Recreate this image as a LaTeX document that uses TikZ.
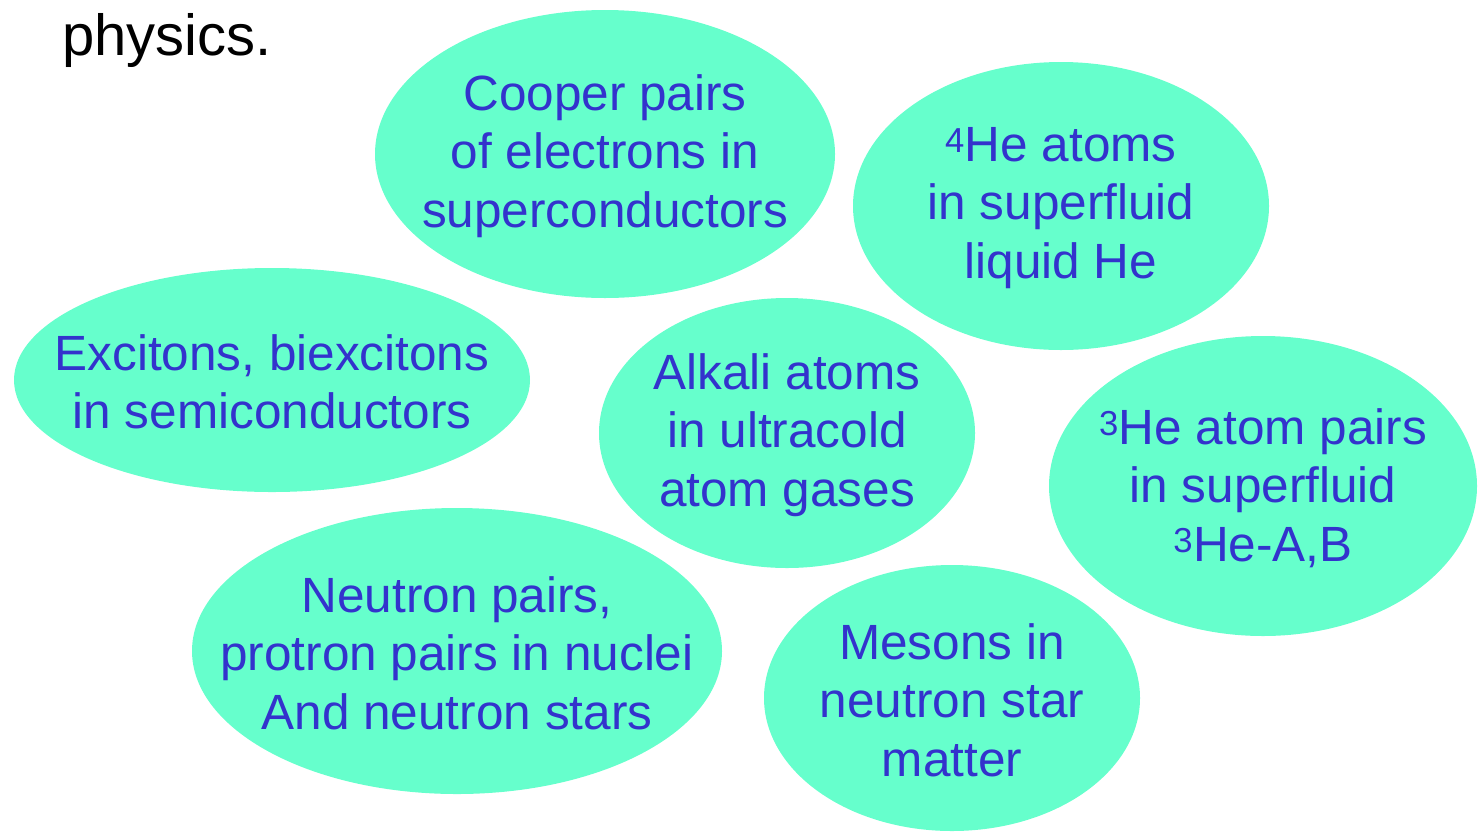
\documentclass[tikz,border=0pt]{standalone}
\usepackage{fontspec}
\setmainfont{Liberation Sans}
\usetikzlibrary{shapes.geometric}
\definecolor{bubble}{HTML}{66FFCC}
\definecolor{bubbletext}{HTML}{3333CC}
\tikzset{
  bub/.style={ellipse, fill=bubble, draw=none, inner sep=0pt},
  bubtxt/.style={inner sep=0pt, align=center, text=bubbletext, yshift=-2pt,
    font=\fontsize{49.5}{58.5}\selectfont},
}
\begin{document}
\begin{tikzpicture}[x=1pt,y=-1pt]
\useasboundingbox (0,0) rectangle (1479,831);
\clip (0,0) rectangle (1479,831);
\node[anchor=base west, font=\fontsize{58}{60}\selectfont, inner sep=0pt] (title) at (62,55) {physics.};
\node[bub, minimum width=460, minimum height=288] (cooper) at (605,154) {};
\node[bubtxt] (cooper-t) at (cooper) {Cooper pairs\\of electrons in\\superconductors};
\node[bub, minimum width=416, minimum height=288] (he4) at (1061,206) {};
\node[bubtxt] (he4-t) at (he4) {\textsuperscript{4}He atoms\\in superfluid\\liquid He};
\node[bub, minimum width=516, minimum height=224] (exc) at (272,380) {};
\node[bubtxt] (exc-t) at (exc) {Excitons, biexcitons\\in semiconductors};
\node[bub, minimum width=376, minimum height=270] (alk) at (787,433) {};
\node[bubtxt] (alk-t) at (alk) {Alkali atoms\\in ultracold\\atom gases};
\node[bub, minimum width=428, minimum height=300] (he3) at (1263,486) {};
\node[bubtxt] (he3-t) at (he3) {\textsuperscript{3}He atom pairs\\in superfluid\\\textsuperscript{3}He-A,B};
\node[bub, minimum width=530, minimum height=286] (neu) at (457,651) {};
\node[bubtxt] (neu-t) at (neu) {Neutron pairs,\\protron pairs in nuclei\\And neutron stars};
\node[bub, minimum width=376, minimum height=266] (mes) at (952,698) {};
\node[bubtxt] (mes-t) at (mes) {Mesons in\\neutron star\\matter};
\end{tikzpicture}
\end{document}
